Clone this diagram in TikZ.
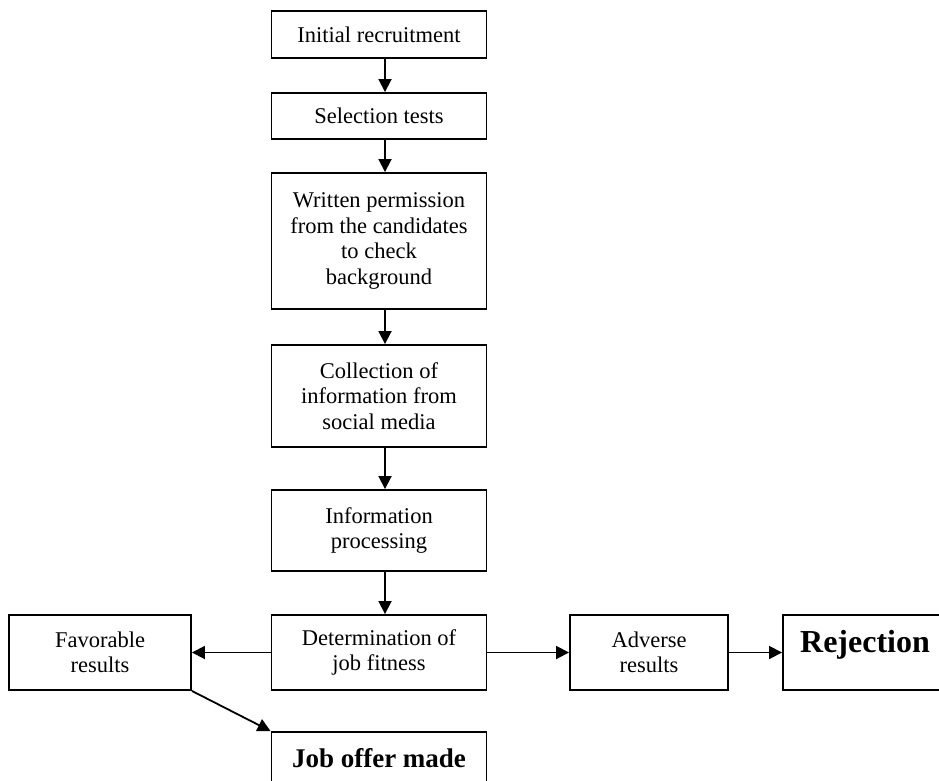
\documentclass[tikz,border=0pt]{standalone}
\usepackage{fontspec}
\setmainfont{Liberation Serif}
\usetikzlibrary{arrows.meta}

\begin{document}
\begin{tikzpicture}[x=1pt, y=-1pt,
        stepbox/.style={draw=black, line width=1.9pt, align=center, inner sep=2pt,
            font=\fontsize{22.5}{25.5}\selectfont, minimum width=215pt},
        flow/.style={line width=1.8pt, -{Triangle[length=13pt,width=13pt]}}]
        \useasboundingbox (0,0) rectangle (939,781);
        \node[stepbox, minimum height=47pt] (recruit) at (379,34.5) {Initial recruitment};
        \node[stepbox, minimum height=46pt] (select) at (379,116) {Selection tests};
        \node[stepbox, minimum height=136pt] (permit) at (379,241)
            {Written permission\\ from the candidates\\ to check\\ background};
        \node[stepbox, minimum height=102pt] (collect) at (379,396)
            {Collection of\\ information from\\ social media};
        \node[stepbox, minimum height=81pt] (process) at (379,530.5)
            {Information\\ processing};
        \node[stepbox, minimum height=75pt] (fitness) at (379,652.5)
            {Determination of\\ job fitness};
        \node[stepbox, minimum height=75pt, minimum width=182pt] (favor) at (100,652.5)
            {Favorable\\ results};
        \node[stepbox, minimum height=75pt, minimum width=158pt] (adverse) at (649,652.5)
            {Adverse\\ results};
        \node[stepbox, minimum height=75pt, minimum width=164pt, text height=22pt, text depth=22pt,
            font=\fontsize{32}{36}\selectfont\bfseries] (reject) at (865,652.5) {Rejection};
        \node[stepbox, minimum height=52pt, font=\fontsize{27}{30}\selectfont\bfseries] (offer) at (379,758)
            {Job offer made};

        \foreach \a/\b in {recruit/select, select/permit, permit/collect, collect/process, process/fitness}
            \draw[flow] ([xshift=6pt]\a.south) -- ([xshift=6pt]\b.north);
        \draw[flow] (fitness.west) -- (favor.east);
        \draw[flow] (fitness.east) -- (adverse.west);
        \draw[flow] (adverse.east) -- (reject.west);
        \draw[flow] (favor.south east) -- (offer.north west);
\end{tikzpicture}
\end{document}
